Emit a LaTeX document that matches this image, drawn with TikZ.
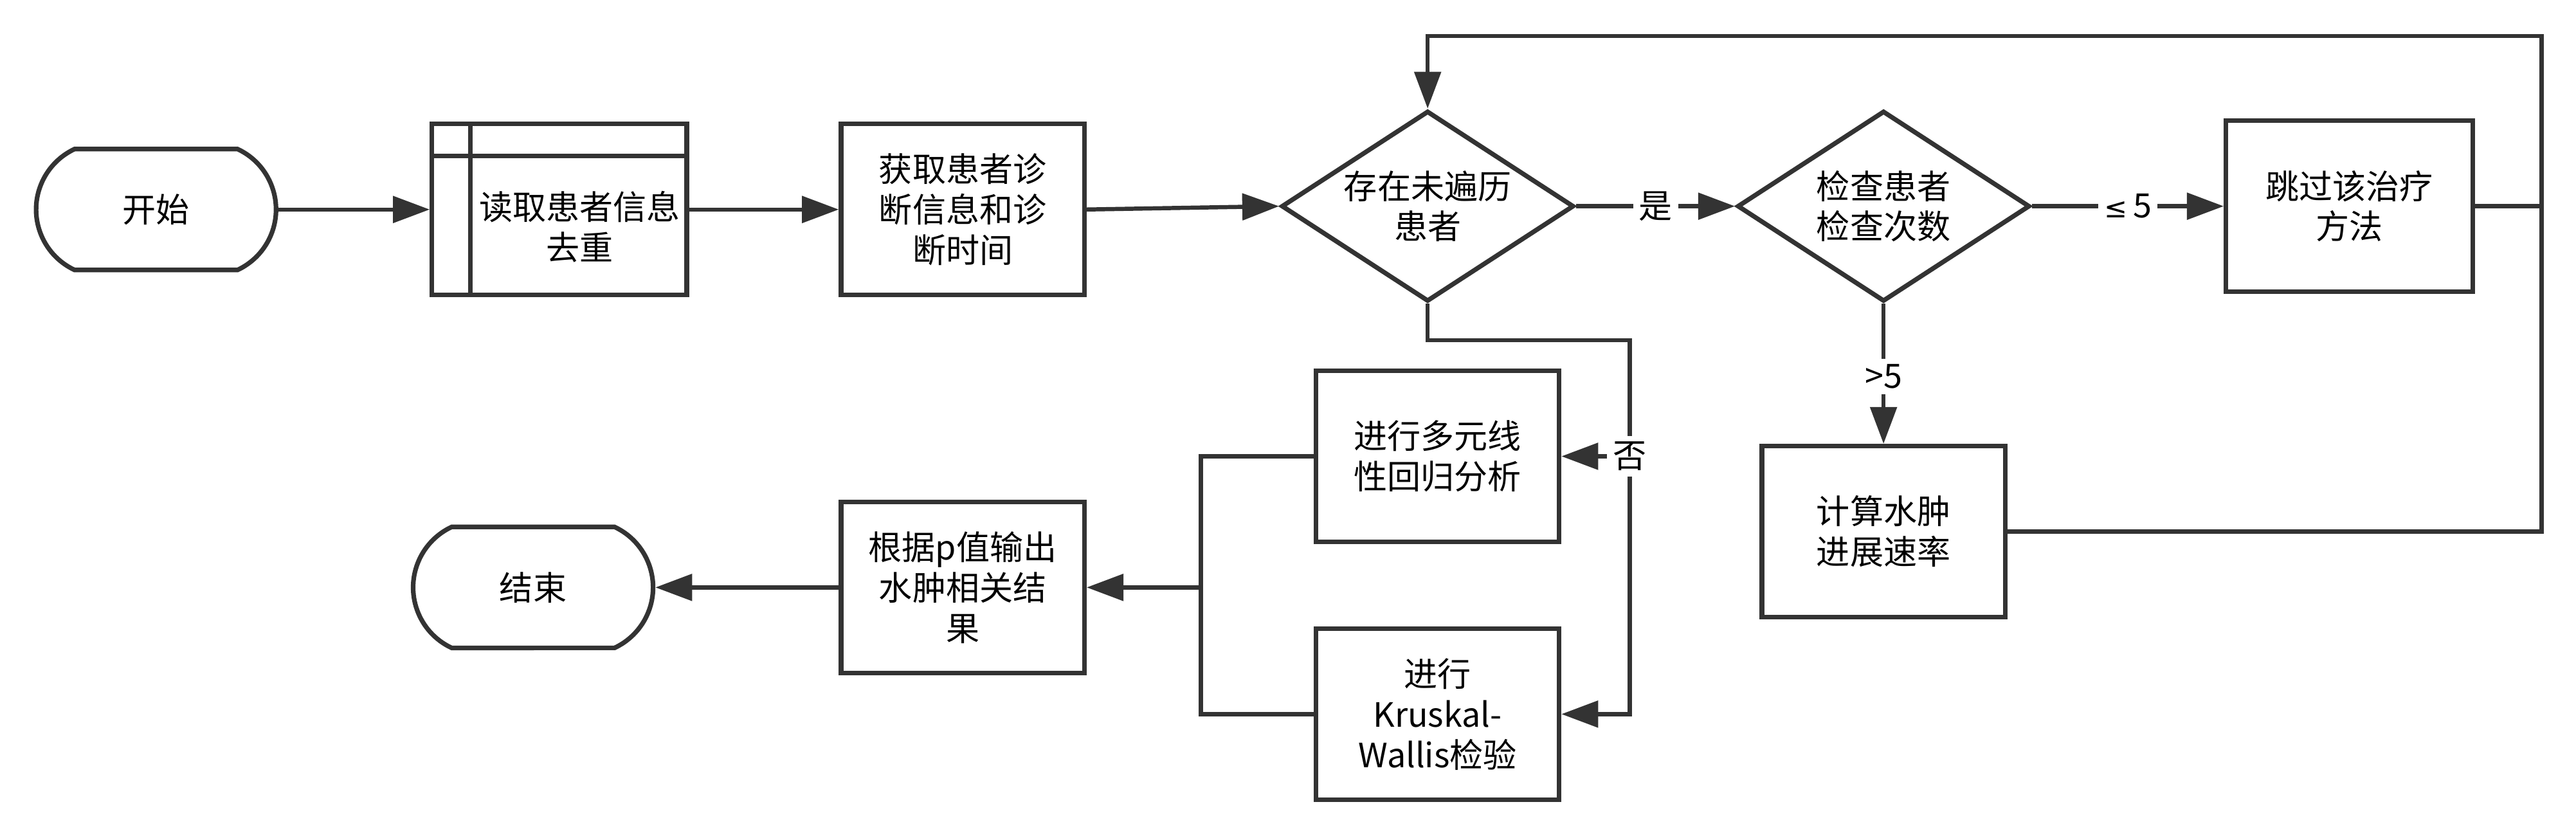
\documentclass[tikz,border=0pt]{standalone}
\usepackage{fontspec}
\setmainfont{Noto Sans CJK SC}
\newfontfamily\symfont{DejaVu Sans}
\usetikzlibrary{arrows.meta,shapes.geometric,shapes.misc}
\definecolor{lineg}{RGB}{51,51,51}

\begin{document}
\begin{tikzpicture}[x=0.025cm,y=-0.025cm]
\tikzstyle{every node}+=[inner sep=0pt, font=\fontsize{14.5}{17.5}\selectfont]
\tikzstyle{term}=[draw=lineg, line width=2pt, rounded rectangle, rounded rectangle arc length=130, minimum width=3.65cm, minimum height=1.84cm]
\tikzstyle{proc}=[draw=lineg, line width=2pt, rectangle, align=center, minimum width=3.7cm, minimum height=2.6cm]
\tikzstyle{cond}=[draw=lineg, line width=2pt, diamond, aspect=1.53, align=center, minimum width=4.45cm, minimum height=2.9cm]
\tikzstyle{conn}=[draw=lineg, line width=1.8pt]
\tikzstyle{arr}=[conn, -{Triangle[length=0.56cm,width=0.4cm]}]
\tikzstyle{lbl}=[fill=white, inner sep=2.5pt]
\useasboundingbox (0,0) rectangle (1568,498.7);
\node[term] (start) at (95,127.5) {开始};
\node[proc, minimum width=3.875cm] (read) at (340.5,127.5) {};
\draw[conn, line width=2pt] ([xshift=0.62cm]read.north west) -- ([xshift=0.62cm]read.south west);
\draw[conn, line width=2pt] ([yshift=-0.52cm]read.north west) -- ([yshift=-0.52cm]read.north east);
\node[align=center] (readtxt) at ([xshift=0.31cm,yshift=-0.26cm]read.center) {读取患者信息\\去重};
\node[proc] (info) at (586,127.5) {获取患者诊\\断信息和诊\\断时间};
\node[cond] (d1) at (869,125.5) {存在未遍历\\患者};
\node[cond] (d2) at (1146.5,125.5) {检查患者\\检查次数};
\node[proc, minimum width=3.75cm] (skip) at (1430,125.5) {跳过该治疗\\方法};
\node[proc] (calc) at (1146.5,323.5) {计算水肿\\进展速率};
\node[proc] (multi) at (875,277.7) {进行多元线\\性回归分析};
\node[proc] (kw) at (875,434.6) {进行\\Kruskal-\\Wallis检验};
\node[proc] (out) at (586,357.5) {根据p值输出\\水肿相关结\\果};
\node[term] (end) at (324.5,357.5) {结束};
\coordinate (loopR) at (1547,22);
\coordinate (noX) at (992,207);
\coordinate (merge) at (731,357.5);
\draw[arr] (start.east) -- (read.west);
\draw[arr] (read.east) -- (info.west);
\draw[arr] (info.east) -- (d1.west);
\draw[arr] (d1.east) -- node[lbl] (yes) {是} (d2.west);
\draw[arr] (d2.east) -- node[lbl] (le5) {{\symfont\fontsize{12}{14}\selectfont ≤}\,5} (skip.west);
\draw[arr] (d2.south) -- node[lbl, pos=0.52] (gt5) {>5} (calc.north);
\draw[conn] (skip.east) -- (skip.east -| loopR);
\draw[arr] (calc.east) -| (loopR) -| (d1.north);
\draw[arr] (d1.south) |- (noX) |- (kw.east);
\draw[arr] (noX |- multi.east) -- (multi.east);
\node[lbl] (no) at (noX |- multi.east) {否};
\draw[conn] (multi.west) -| (merge) |- (kw.west);
\draw[arr] (merge) -- (out.east);
\draw[arr] (out.west) -- (end.east);
\end{tikzpicture}
\end{document}
